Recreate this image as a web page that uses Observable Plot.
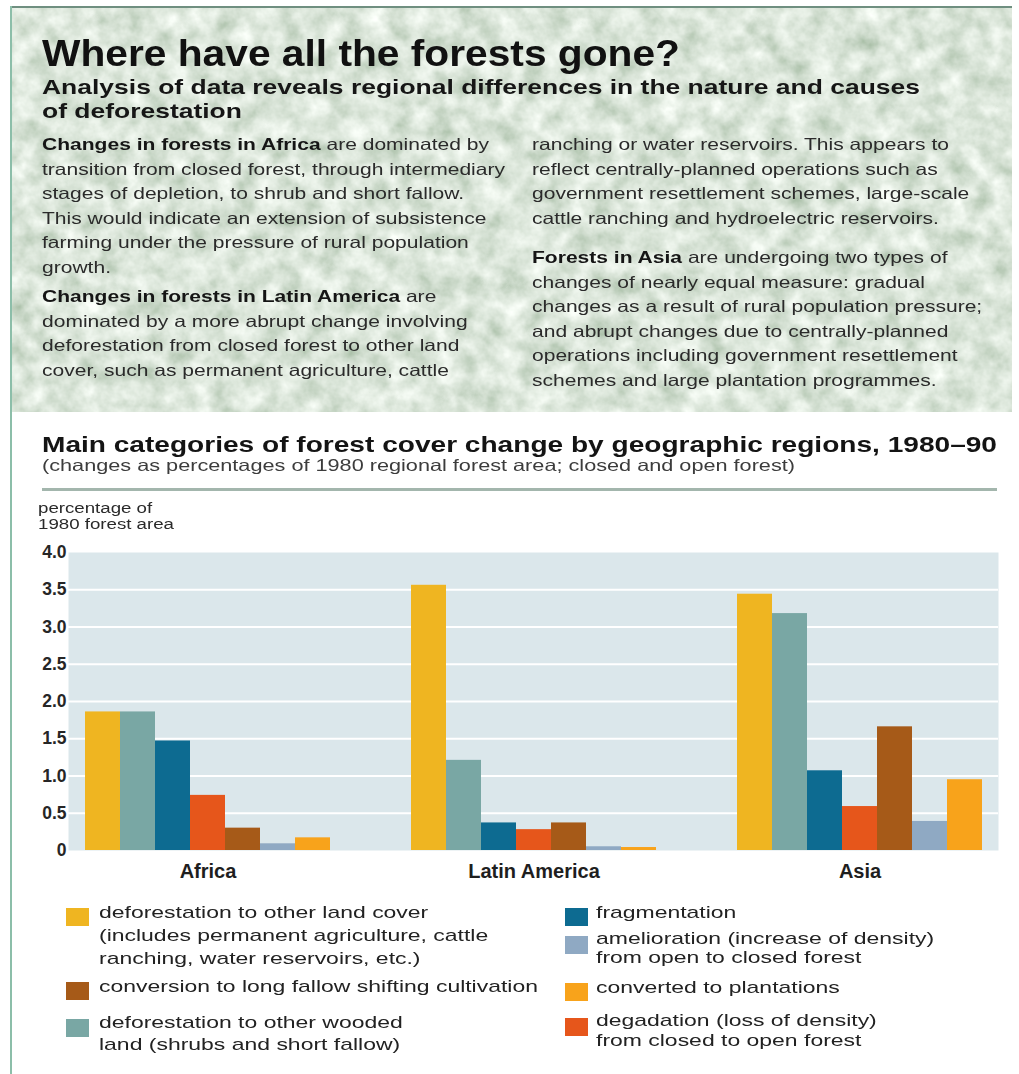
<!DOCTYPE html>
<html>
<head>
<meta charset="utf-8">
<script src="https://cdn.jsdelivr.net/npm/d3@7"></script>
<script src="https://cdn.jsdelivr.net/npm/@observablehq/plot@0.6"></script>
<style>
  body { margin: 0; background: #fff; font-family: "Liberation Sans", Arial, Helvetica, sans-serif; }
  #page { position: relative; width: 1019px; height: 1074px; overflow: hidden; background: #fff; }
  .abs { position: absolute; white-space: nowrap; }
  .ln { display: block; white-space: nowrap; }
  .fit { display: inline-block; transform-origin: 0 50%; }
  #banner { position: absolute; left: 10px; top: 6px; width: 1002px; height: 406px; box-sizing: border-box;
            border-top: 2px solid #6f8f80; border-left: 2px solid #80ad98; background-color: #b4c8b3; }
  #leftline { position: absolute; left: 10px; top: 6px; width: 2px; height: 1068px; background: #8cbea9; }
  .title { font-weight: bold; font-size: 36px; line-height: 40px; color: #111; }
  .subtitle { font-weight: bold; font-size: 21px; line-height: 24px; color: #161616; }
  .body { font-size: 16.5px; line-height: 24.5px; color: #2a2a2a; }
  .body b { color: #151515; }
  .ctitle { font-weight: bold; font-size: 21.5px; line-height: 28px; color: #141414; }
  .csub { font-size: 16.5px; line-height: 20px; color: #3c3c3c; }
  .ylab { font-size: 14px; line-height: 16px; color: #2a2a2a; }
  .leg { font-size: 17px; color: #222; }
  .sw { position: absolute; width: 23px; height: 18px; }
  .chartlayer { position: absolute; left: 0; top: 530px; }
  .chartlayer svg text { font-family: "Liberation Sans", Arial, sans-serif; }
</style>
</head>
<body>
<div id="page">
  <div id="banner"></div>
  <div id="leftline"></div>
  <div class="abs title" style="left:42px;top:34px;"><span class="fit" id="t1">Where have all the forests gone?</span></div>
  <div class="abs subtitle" style="left:42px;top:75px;">
    <span class="ln"><span class="fit sub">Analysis of data reveals regional differences in the nature and causes</span></span>
    <span class="ln"><span class="fit sub">of deforestation</span></span>
  </div>
  <div class="abs body" style="left:42px;top:132px;" id="bodyL1"></div>
  <div class="abs body" style="left:42px;top:284px;" id="bodyL2"></div>
  <div class="abs body" style="left:532px;top:132px;" id="bodyR1"></div>
  <div class="abs body" style="left:532px;top:245px;" id="bodyR2"></div>

  <div class="abs ctitle" style="left:42px;top:431px;"><span class="fit" id="ct">Main categories of forest cover change by geographic regions, 1980–90</span></div>
  <div class="abs csub" style="left:42px;top:455px;"><span class="fit" id="cs">(changes as percentages of 1980 regional forest area; closed and open forest)</span></div>
  <div class="abs" style="left:42px;top:488px;width:955px;height:3px;background:#a3b6ad;"></div>
  <div class="abs ylab" style="left:38px;top:500px;">
    <span class="ln"><span class="fit yl">percentage of</span></span>
    <span class="ln"><span class="fit yl" id="yl2">1980 forest area</span></span>
  </div>
  <div id="chartBack" class="chartlayer"></div>
  <div id="chartFront" class="chartlayer"></div>
  <div id="legend"></div>
</div>
<script>
// ---------- data ----------
const regions = ["Africa", "Latin America", "Asia"];
const categories = [
  "deforestation to other land cover",
  "deforestation to other wooded land",
  "fragmentation",
  "degradation",
  "conversion to long fallow shifting cultivation",
  "amelioration",
  "converted to plantations"
];
const colors = ["#efb521", "#79a7a4", "#0d6b91", "#e6561b", "#a65a18", "#8fa9c3", "#f8a31b"];
const africa       = [1.86, 1.86, 1.47, 0.74, 0.30, 0.09, 0.17];
const latinAmerica = [3.56, 1.21, 0.37, 0.28, 0.37, 0.05, 0.04];
const asia         = [3.44, 3.18, 1.07, 0.59, 1.66, 0.39, 0.95];
const yTicks = [0, 0.5, 1, 1.5, 2, 2.5, 3, 3.5, 4];

// legend text, per category index
const legendLeft = [
  [0, ["deforestation to other land cover", "(includes permanent agriculture, cattle", "ranching, water reservoirs, etc.)"]],
  [4, ["conversion to long fallow shifting cultivation"]],
  [1, ["deforestation to other wooded", "land (shrubs and short fallow)"]]
];
const legendRight = [
  [2, ["fragmentation"]],
  [5, ["amelioration (increase of density)", "from open to closed forest"]],
  [6, ["converted to plantations"]],
  [3, ["degadation (loss of density)", "from closed to open forest"]]
];

const bodyL1 = ["<b>Changes in forests in Africa</b> are dominated by",
  "transition from closed forest, through intermediary",
  "stages of depletion, to shrub and short fallow.",
  "This would indicate an extension of subsistence",
  "farming under the pressure of rural population",
  "growth."];
const bodyL2 = ["<b>Changes in forests in Latin America</b> are",
  "dominated by a more abrupt change involving",
  "deforestation from closed forest to other land",
  "cover, such as permanent agriculture, cattle"];
const bodyR1 = ["ranching or water reservoirs. This appears to",
  "reflect centrally-planned operations such as",
  "government resettlement schemes, large-scale",
  "cattle ranching and hydroelectric reservoirs."];
const bodyR2 = ["<b>Forests in Asia</b> are undergoing two types of",
  "changes of nearly equal measure: gradual",
  "changes as a result of rural population pressure;",
  "and abrupt changes due to centrally-planned",
  "operations including government resettlement",
  "schemes and large plantation programmes."];

// ---------- banner texture ----------
const tex = `<svg xmlns='http://www.w3.org/2000/svg' width='1002' height='406'><filter id='f' x='0' y='0' width='100%' height='100%'><feTurbulence type='fractalNoise' baseFrequency='0.045' numOctaves='4' seed='7'/><feColorMatrix type='matrix' values='0.7 0 0 0 0.36  0.6 0 0 0 0.49  0.7 0 0 0 0.35  0 0 0 0 1'/></filter><rect width='100%' height='100%' filter='url(#f)'/></svg>`;
document.getElementById("banner").style.backgroundImage = `url("data:image/svg+xml,${encodeURIComponent(tex)}")`;

// ---------- body text ----------
function fillLines(id, lines) {
  const el = document.getElementById(id);
  el.innerHTML = lines.map(l => `<span class="ln"><span class="fit bt">${l}</span></span>`).join("");
}
fillLines("bodyL1", bodyL1); fillLines("bodyL2", bodyL2);
fillLines("bodyR1", bodyR1); fillLines("bodyR2", bodyR2);

// ---------- legend ----------
const legend = document.getElementById("legend");
const leftTops = [[901, 23], [975, 23], [1012, 22]];
const rightTops = [[901, 23], [929, 19], [976, 23], [1011, 20]];
function addItems(items, tops, swX, txX) {
  items.forEach(([ci, lines], k) => {
    const [top, lh] = tops[k];
    const sw = document.createElement("div");
    sw.className = "sw";
    sw.style.left = swX + "px"; sw.style.top = (top + 7) + "px";
    sw.style.background = colors[ci];
    legend.appendChild(sw);
    const t = document.createElement("div");
    t.className = "abs leg";
    t.style.left = txX + "px"; t.style.top = top + "px"; t.style.lineHeight = lh + "px";
    t.innerHTML = lines.map(l => `<span class="ln"><span class="fit lg">${l}</span></span>`).join("");
    legend.appendChild(t);
  });
}
addItems(legendLeft, leftTops, 66, 99);
addItems(legendRight, rightTops, 565, 596);

// ---------- fit text widths to the reference ----------
function scaleTo(el, target) { return target / el.getBoundingClientRect().width; }
function applyScale(els, s) { els.forEach(e => e.style.transform = `scaleX(${s})`); }
const t1 = document.getElementById("t1");
applyScale([t1], scaleTo(t1, 638));
const subs = [...document.querySelectorAll(".sub")];
applyScale(subs, scaleTo(subs[0], 878));
const ct = document.getElementById("ct");
applyScale([ct], scaleTo(ct, 955));
const cs = document.getElementById("cs");
applyScale([cs], scaleTo(cs, 753));
const bts = [...document.querySelectorAll(".bt")];
applyScale(bts, scaleTo(bts[1], 463));
const lgs = [...document.querySelectorAll(".lg")];
const refLg = lgs.find(e => e.textContent.startsWith("conversion"));
applyScale(lgs, scaleTo(refLg, 439));
const yls = [...document.querySelectorAll(".yl")];
applyScale(yls, scaleTo(document.getElementById("yl2"), 136));

// ---------- chart ----------
const dims = {width: 1019, height: 362, marginLeft: 68, marginRight: 21, marginTop: 22, marginBottom: 42};

// background layer: panel, white gridlines, y axis (not faceted, spans the whole panel)
const back = Plot.plot({
  ...dims,
  style: {color: "#262626", background: "transparent"},
  y: {domain: [0, 4], label: null},
  marks: [
    Plot.frame({fill: "#dbe7eb", stroke: null}),
    Plot.ruleY(yTicks.filter(d => d > 0 && d < 4), {stroke: "#ffffff", strokeWidth: 2}),
    Plot.axisY(yTicks, {anchor: "left", tickSize: 0, tickPadding: 2, fontSize: 17.5, fontWeight: "bold",
      tickFormat: d => d === 0 ? "0" : d.toFixed(1), label: null})
  ]
});
document.getElementById("chartBack").appendChild(back);

// front layer: grouped bars faceted by region
const values = [africa, latinAmerica, asia];
const data = regions.flatMap((r, i) => categories.map((c, j) => ({region: r, category: c, value: values[i][j]})));
const front = Plot.plot({
  ...dims,
  style: {color: "#1e1e1e", background: "transparent"},
  fx: {domain: regions, paddingInner: 0.243, paddingOuter: 0.046, label: null},
  x: {domain: categories, axis: null, padding: 0},
  y: {domain: [0, 4], axis: null},
  color: {domain: categories, range: colors},
  marks: [
    Plot.barY(data, {fx: "region", x: "category", y: "value", fill: "category"}),
    Plot.axisFx({anchor: "bottom", tickSize: 0, tickPadding: 13, fontSize: 20, fontWeight: "bold", label: null})
  ]
});
document.getElementById("chartFront").appendChild(front);
</script>
</body>
</html>
